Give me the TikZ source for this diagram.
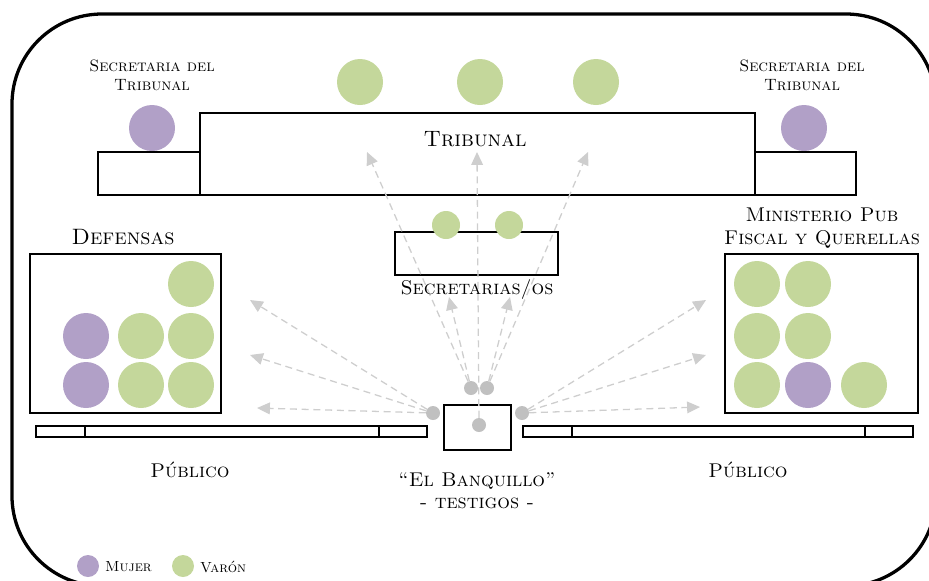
\documentclass[tikz,border=0pt]{standalone}
\usepackage{tikz}
\usetikzlibrary{arrows.meta}
\definecolor{mujerc}{RGB}{177,160,199}
\definecolor{varonc}{RGB}{196,215,155}
\definecolor{puntoc}{RGB}{192,192,192}
\definecolor{flechac}{RGB}{206,206,206}

\tikzset{
  caja/.style={draw, line width=1.5pt},
  mujer/.style={circle, fill=mujerc, inner sep=0pt, minimum size=1.38cm},
  varon/.style={circle, fill=varonc, inner sep=0pt, minimum size=1.38cm},
  punto/.style={circle, fill=puntoc, inner sep=0pt, minimum size=0.42cm},
  mira/.style={draw=flechac, line width=1.1pt, dash pattern=on 6pt off 4pt,
    -{Triangle[length=11pt, width=10pt, fill=flechac]}},
  grande/.style={font=\fontsize{19}{22}\selectfont\scshape, align=center},
  media/.style={font=\fontsize{17}{19}\selectfont\scshape, align=center},
  chica/.style={font=\fontsize{14}{16}\selectfont\scshape, align=center},
  mini/.style={font=\fontsize{12.5}{15}\selectfont\scshape}
}

\begin{document}
\begin{tikzpicture}[x=0.03cm, y=-0.03cm]
  \useasboundingbox (0,0) rectangle (929,580);
  % Sala
  \draw[line width=2.8pt, rounded corners=2.7cm] (12,14) rectangle (936,586);

  % Mesas
  \draw[caja] (200,113) rectangle (755,195);
  \draw[caja] (98,152) rectangle (200,195);
  \draw[caja] (755,152) rectangle (856,195);
  \draw[caja] (395,232) rectangle (558,275);
  \draw[caja] (30,254) rectangle (221,413);
  \draw[caja] (725,254) rectangle (918,413);
  \draw[caja] (444,405) rectangle (511,450);
  \draw[caja] (36,426) rectangle (427,437);
  \draw[caja] (85,426) -- (85,437);
  \draw[caja] (379,426) -- (379,437);
  \draw[caja] (523,426) rectangle (913,437);
  \draw[caja] (572,426) -- (572,437);
  \draw[caja] (865,426) -- (865,437);

  % Personas
  \node[varon] (j1) at (360,82) {};
  \node[varon] (j2) at (480,82) {};
  \node[varon] (j3) at (596,82) {};
  \node[mujer] (st1) at (152,128) {};
  \node[mujer] (st2) at (804,128) {};
  \node[varon, minimum size=0.84cm] (s1) at (446,225) {};
  \node[varon, minimum size=0.84cm] (s2) at (509,225) {};

  \node[varon] (d1) at (191,284) {};
  \node[mujer] (d2) at (86,336) {};
  \node[varon] (d3) at (141,336) {};
  \node[varon] (d4) at (191,336) {};
  \node[mujer] (d5) at (86,385) {};
  \node[varon] (d6) at (141,385) {};
  \node[varon] (d7) at (191,385) {};

  \node[varon] (m1) at (757,284) {};
  \node[varon] (m2) at (808,284) {};
  \node[varon] (m3) at (757,336) {};
  \node[varon] (m4) at (808,336) {};
  \node[varon] (m5) at (757,385) {};
  \node[mujer] (m6) at (808,385) {};
  \node[varon] (m7) at (864,385) {};

  % Testigos
  \node[punto] (t1) at (433,413) {};
  \node[punto] (t2) at (522,413) {};
  \node[punto] (t3) at (471,388) {};
  \node[punto] (t4) at (487,388) {};
  \node[punto] (t5) at (479,425) {};

  % Miradas
  \coordinate (a1) at (250,300);
  \coordinate (a2) at (250,355);
  \coordinate (a3) at (257,408);
  \coordinate (a4) at (706,300);
  \coordinate (a5) at (706,355);
  \coordinate (a6) at (700,407);
  \coordinate (a7) at (367,152);
  \coordinate (a8) at (477,152);
  \coordinate (a9) at (588,152);
  \coordinate (a10) at (449,297);
  \coordinate (a11) at (510,297);
  \draw[mira] (t1) -- (a1);
  \draw[mira] (t1) -- (a2);
  \draw[mira] (t1) -- (a3);
  \draw[mira] (t2) -- (a4);
  \draw[mira] (t2) -- (a5);
  \draw[mira] (t2) -- (a6);
  \draw[mira] (t3) -- (a7);
  \draw[mira] (t3) -- (a10);
  \draw[mira] (t5) -- (a8);
  \draw[mira] (t4) -- (a9);
  \draw[mira] (t4) -- (a11);

  % Textos
  \node[grande] (trib) at (475,139) {Tribunal};
  \node[chica] (lst1) at (152,75) {Secretaria del\\Tribunal};
  \node[chica] (lst2) at (802,75) {Secretaria del\\Tribunal};
  \node[media] (lsec) at (477,290) {Secretarias/os};
  \node[grande] (ldef) at (123,237) {Defensas};
  \node[media] (lmin) at (822,228) {Ministerio Pub\\Fiscal y Querellas};
  \node[media] (pub1) at (190,470) {Público};
  \node[media] (pub2) at (748,470) {Público};
  \node[media] (banq) at (477,491) {``El Banquillo''\\- testigos -};

  % Leyenda
  \node[mujer, minimum size=0.66cm] (lm) at (88,566) {};
  \node[mini, anchor=west] (tm) at (101,567) {Mujer};
  \node[varon, minimum size=0.66cm] (lv) at (183,566) {};
  \node[mini, anchor=west] (tv) at (196,567) {Varón};
\end{tikzpicture}
\end{document}
